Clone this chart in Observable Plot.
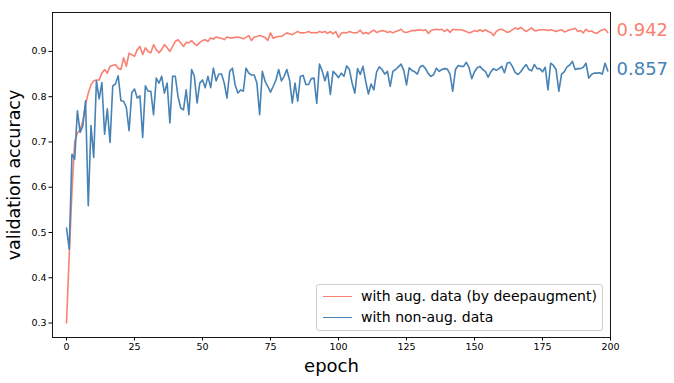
<!DOCTYPE html>
<html>
<head>
<meta charset="utf-8">
<script src="https://cdn.jsdelivr.net/npm/d3@7"></script>
<script src="https://cdn.jsdelivr.net/npm/@observablehq/plot@0.6"></script>
<style>
  body { margin: 0; background: white; font-family: "DejaVu Sans", sans-serif; }
  #wrap { position: relative; width: 674px; height: 383px; }
  .legend { position: absolute; left: 316px; top: 284px; width: 285px; height: 45px;
    border: 1px solid #d0d0d0; border-radius: 3px; background: rgba(255,255,255,0.85); }
  .item { position: absolute; left: 0; height: 20px; display: flex; align-items: center; font-size: 14px; color: #000; }
  .swatch { width: 29px; height: 0; border-top: 1.5px solid; margin-left: 6px; margin-right: 9px; }
</style>
</head>
<body>
<div id="wrap"></div>
<script>
const seriesNames = ["with aug. data (by deepaugment)", "with non-aug. data"];
const seriesColors = ["#fa8072", "#4682b4"];
const xTicks = [0, 25, 50, 75, 100, 125, 150, 175, 200];
const yTicks = [0.3, 0.4, 0.5, 0.6, 0.7, 0.8, 0.9];

const augAcc = [
  0.300,0.450,0.590,0.700,0.720,0.727,0.746,0.782,0.808,0.826,0.835,0.837,0.837,0.852,0.860,0.852,0.867,0.869,0.871,0.863,0.860,0.886,0.867,0.896,0.893,0.889,0.904,0.911,
  0.893,0.908,0.900,0.897,0.915,0.904,0.897,0.904,0.915,0.908,0.900,0.911,0.922,0.926,0.919,0.911,0.920,0.919,0.924,0.917,0.913,0.920,0.924,0.926,0.922,0.930,0.927,0.932,0.930,
  0.929,0.926,0.932,0.930,0.930,0.931,0.932,0.930,0.928,0.931,0.935,0.924,0.932,0.933,0.935,0.933,0.931,0.924,0.941,0.929,0.932,0.933,0.933,0.937,0.941,0.939,0.937,0.941,0.944,0.941,
  0.941,0.942,0.944,0.941,0.942,0.941,0.944,0.942,0.944,0.940,0.944,0.939,0.944,0.931,0.940,0.942,0.941,0.944,0.942,0.941,0.942,0.947,0.939,0.942,0.939,0.944,0.947,0.942,0.944,
  0.946,0.945,0.942,0.944,0.941,0.944,0.946,0.949,0.943,0.942,0.944,0.946,0.946,0.947,0.948,0.946,0.948,0.940,0.946,0.948,0.949,0.948,0.949,0.944,0.949,0.942,0.949,0.948,0.948,
  0.948,0.946,0.944,0.941,0.943,0.946,0.944,0.948,0.944,0.948,0.944,0.942,0.935,0.944,0.948,0.949,0.946,0.942,0.944,0.948,0.952,0.949,0.953,0.948,0.944,0.948,0.952,0.946,0.946,
  0.948,0.948,0.948,0.946,0.948,0.946,0.944,0.946,0.948,0.943,0.945,0.948,0.949,0.951,0.944,0.946,0.941,0.949,0.944,0.945,0.942,0.940,0.945,0.948,0.949,0.942
];
const nonAugAcc = [
  0.510,0.463,0.673,0.662,0.769,0.721,0.736,0.791,0.559,0.736,0.666,0.835,0.795,0.831,0.717,0.773,0.699,0.824,0.828,0.846,0.791,0.790,0.776,0.725,0.809,0.817,0.797,0.802,
  0.710,0.824,0.812,0.812,0.760,0.841,0.830,0.845,0.808,0.830,0.742,0.845,0.845,0.800,0.775,0.771,0.815,0.760,0.860,0.845,0.786,0.830,0.837,0.820,0.845,0.820,0.863,0.835,0.850,
  0.850,0.830,0.797,0.856,0.863,0.826,0.808,0.815,0.812,0.863,0.852,0.848,0.848,0.830,0.760,0.856,0.834,0.823,0.810,0.823,0.837,0.860,0.835,0.845,0.860,0.837,0.786,0.830,0.790,0.845,
  0.847,0.827,0.827,0.840,0.841,0.785,0.872,0.857,0.835,0.855,0.805,0.856,0.850,0.842,0.852,0.845,0.868,0.860,0.830,0.808,0.862,0.849,0.867,0.834,0.806,0.828,0.815,0.855,0.866,
  0.860,0.850,0.856,0.823,0.856,0.860,0.866,0.872,0.858,0.826,0.864,0.858,0.855,0.850,0.866,0.869,0.862,0.851,0.845,0.849,0.863,0.856,0.860,0.862,0.861,0.850,0.812,0.860,0.869,
  0.867,0.867,0.876,0.864,0.840,0.855,0.864,0.867,0.860,0.856,0.843,0.855,0.862,0.858,0.862,0.867,0.853,0.874,0.876,0.866,0.853,0.849,0.855,0.864,0.871,0.860,0.857,0.871,0.862,
  0.862,0.855,0.865,0.815,0.874,0.869,0.860,0.812,0.850,0.855,0.866,0.870,0.878,0.860,0.862,0.862,0.865,0.874,0.841,0.849,0.852,0.852,0.853,0.850,0.874,0.857
];

const rows = [];
augAcc.forEach((v, i) => rows.push({epoch: i, acc: v, series: seriesNames[0]}));
nonAugAcc.forEach((v, i) => rows.push({epoch: i, acc: v, series: seriesNames[1]}));
const ends = [
  {epoch: 200, acc: augAcc[augAcc.length - 1], color: seriesColors[0]},
  {epoch: 200, acc: nonAugAcc[nonAugAcc.length - 1], color: seriesColors[1]}
];

const chart = Plot.plot({
  width: 674, height: 383,
  marginLeft: 52, marginRight: 64, marginTop: 12, marginBottom: 46,
  style: {fontFamily: "DejaVu Sans, sans-serif", fontSize: "10px", color: "#000", background: "white", overflow: "visible"},
  x: {domain: [-5.15, 200], label: null},
  y: {domain: [0.268, 0.986], label: null},
  color: {domain: seriesNames, range: seriesColors},
  marks: [
    Plot.axisX({ticks: xTicks, tickSize: 3.5, tickPadding: 2.5, tickFormat: d => String(d), label: null, fontSize: 9.5}),
    Plot.axisY({ticks: yTicks, tickSize: 3.5, tickPadding: 2.5, tickFormat: d3.format(".1f"), label: null, fontSize: 9.5}),
    Plot.line(rows, {x: "epoch", y: "acc", z: "series", stroke: "series", strokeWidth: 1.6}),
    Plot.frame({stroke: "#000", strokeWidth: 0.9}),
    Plot.text(ends, {x: "epoch", y: "acc", text: d => d3.format(".3f")(d.acc), fill: "color",
      dx: 6, dy: -2, textAnchor: "start", fontSize: 18}),
    Plot.text(["epoch"], {frameAnchor: "bottom", textAnchor: "middle", lineAnchor: "middle", dy: 29, fontSize: 18}),
    Plot.text(["validation accuracy"], {frameAnchor: "left", textAnchor: "middle", lineAnchor: "middle", dx: -38, rotate: -90, fontSize: 17.5})
  ]
});
const wrap = document.getElementById("wrap");
wrap.appendChild(chart);

const legend = document.createElement("div");
legend.className = "legend";
seriesNames.forEach((name, i) => {
  const item = document.createElement("div");
  item.className = "item";
  item.style.top = (1 + i * 21) + "px";
  const sw = document.createElement("span");
  sw.className = "swatch";
  sw.style.borderColor = seriesColors[i];
  const label = document.createElement("span");
  label.textContent = name;
  item.appendChild(sw);
  item.appendChild(label);
  legend.appendChild(item);
});
wrap.appendChild(legend);
</script>
</body>
</html>
